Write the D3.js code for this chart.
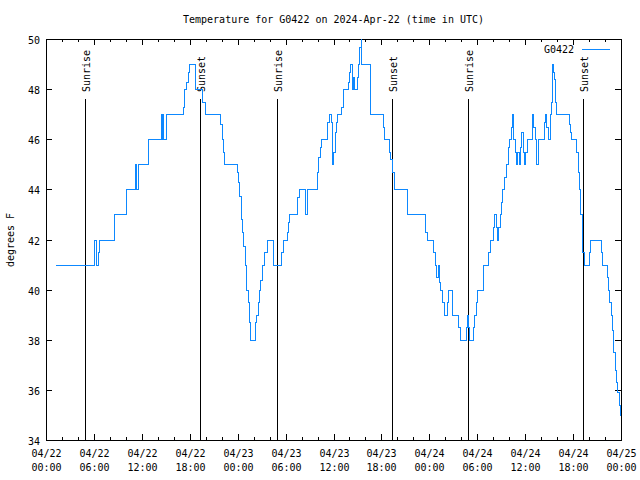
<!DOCTYPE html>
<html><head><meta charset="utf-8">
<script src="https://cdn.jsdelivr.net/npm/d3@7"></script>
<style>
body{margin:0;background:#fff}
text{font-family:"DejaVu Sans Mono",monospace;font-size:10px;fill:#000}
</style>
</head><body>
<svg id="c" width="640" height="480"></svg>
<script>
const titleText = "Temperature for G0422 on 2024-Apr-22 (time in UTC)";
const seriesName = "G0422";
const yLabel = "degrees F";
const startTime = "2024-04-22T00:00:00Z";
const endTime = "2024-04-25T00:00:00Z";
// hours since start (UTC) and temperature (F)
const hours = [1.25,6.09,6.34,6.6,6.76,8.56,10.10,11.19,11.39,11.64,12.81,14.40,14.55,14.65,14.75,15.1,17.2,17.4,17.6,17.8,18.0,18.78,19.62,19.95,21.9,22.1,22.25,22.4,23.96,24.12,24.29,24.46,24.63,24.79,24.96,25.13,25.38,25.54,25.63,26.21,26.38,26.55,26.71,26.88,27.13,27.38,27.71,28.47,29.51,29.68,30.18,30.34,30.51,31.47,31.68,32.52,32.72,33.98,34.14,34.31,34.52,35.23,35.44,35.77,35.9,36.02,36.19,36.35,36.48,37.02,37.23,37.86,38.02,38.19,38.36,38.5,38.6,38.95,39.1,39.3,39.45,39.55,40.6,42.2,42.35,43.0,43.15,43.41,43.66,45.25,47.54,47.71,48.5,48.75,48.92,49.09,49.25,49.42,49.67,49.92,50.25,50.38,50.84,51.63,51.84,52.67,52.8,52.92,53.09,53.51,53.68,53.93,54.09,54.84,55.43,55.6,56.01,56.18,56.35,56.51,56.68,56.85,57.02,57.18,57.43,57.6,57.89,58.06,58.23,58.39,58.56,58.73,58.9,59.06,59.23,59.4,59.56,59.73,59.9,60.06,60.23,60.9,61.06,61.32,61.48,61.65,62.48,62.57,62.73,62.9,63.23,63.32,63.48,63.57,63.65,63.82,63.94,65.49,65.66,65.82,66.49,66.66,66.83,66.99,67.12,67.24,67.41,68.03,68.16,69.5,69.66,70.25,70.41,70.58,70.75,70.91,71.08,71.25,71.42,71.58,71.75,71.92,72.0];
const temps = [41,42,41,41.5,42,43,44,45,44,45,46,47,46,47,46,47,47.3,48,48.3,48.7,49,48,47.5,47,46.6,46,45.5,45,44.7,44.3,43.75,42.8,42.3,41.75,41,40,39.5,38.7,38,38.7,39,39.5,40,40.4,41,41.5,42,41,41.5,42,42.3,42.7,43,43.7,44,43,44,44.7,45.3,45.7,46,46.7,47,46.7,45,45.5,46.3,46.7,47,47.3,48,48.3,48.7,49,48,48.5,48,48.5,49,49.7,50,49,47,46.5,46,45.5,45.2,44.7,44,43,42.3,42,41.5,41,40.5,41,40.3,40,39.5,39,39.5,40,39,38.5,38,38.5,39,38.5,38,38.5,39,39.5,40,41,41.5,42,42.5,43,42.5,42,42.5,43,43.5,44,44.5,45,45.7,46,46.5,47,46,45.5,45,45.5,45,45.7,46.3,45.5,45,45.5,46,47,46.5,46,45,46,46.7,47,46.5,46,47,47.5,49,48.7,48.4,47.5,47,46.6,46.3,46,45.5,44.7,44,43,42,41.5,41,41.5,42,41.5,41,40.5,40,39.5,39,38.4,37.5,36.8,36.3,35.9,35.4,35,35];
const eventLabels = ["Sunrise","Sunset","Sunrise","Sunset","Sunrise","Sunset"];
const eventHours = [4.93,19.33,28.97,43.37,52.9,67.3];
const yTicks = [34,36,38,40,42,44,46,48,50];
const majorTickHours = [0,6,12,18,24,30,36,42,48,54,60,66,72];
const minorTickHours = [2,4,8,10,14,16,20,22,26,28,32,34,38,40,44,46,50,52,56,58,62,64,68,70];

const lineColor = "#0d88ff";
const svg = d3.select("#c");
const t0 = new Date(startTime);
const hToDate = h => new Date(t0.getTime() + h * 3600000);

const L = 46, R = 621, T = 39, B = 440;
const x = d3.scaleUtc().domain([new Date(startTime), new Date(endTime)]).range([L, R]);
const y = d3.scaleLinear().domain([34, 50]).range([B, T]);
const px = v => Math.round(v) + 0.5;

const g = svg.append("g").attr("shape-rendering", "crispEdges");

// ticks (inward, both sides)
const fmtD = d3.utcFormat("%m/%d"), fmtT = d3.utcFormat("%H:%M");
majorTickHours.forEach(h => {
  const xx = px(x(hToDate(h)));
  g.append("line").attr("x1", xx).attr("x2", xx).attr("y1", B).attr("y2", B - 6).attr("stroke", "#000");
  g.append("line").attr("x1", xx).attr("x2", xx).attr("y1", T).attr("y2", T + 6).attr("stroke", "#000");
  const tx = svg.append("text").attr("x", xx).attr("text-anchor", "middle");
  tx.append("tspan").attr("x", xx).attr("y", 457).text(fmtD(hToDate(h)));
  tx.append("tspan").attr("x", xx).attr("y", 471).text(fmtT(hToDate(h)));
});
minorTickHours.forEach(h => {
  const xx = px(x(hToDate(h)));
  g.append("line").attr("x1", xx).attr("x2", xx).attr("y1", B).attr("y2", B - 3).attr("stroke", "#000");
  g.append("line").attr("x1", xx).attr("x2", xx).attr("y1", T).attr("y2", T + 3).attr("stroke", "#000");
});
yTicks.forEach(v => {
  const yy = px(y(v));
  g.append("line").attr("x1", L).attr("x2", L + 6).attr("y1", yy).attr("y2", yy).attr("stroke", "#000");
  g.append("line").attr("x1", R).attr("x2", R - 6).attr("y1", yy).attr("y2", yy).attr("stroke", "#000");
  svg.append("text").attr("x", 40).attr("y", yy + 4).attr("text-anchor", "end").text(v);
});

// sunrise / sunset
eventHours.forEach((h, i) => {
  const xx = px(x(hToDate(h)));
  g.append("line").attr("x1", xx).attr("x2", xx).attr("y1", B).attr("y2", 99).attr("stroke", "#000");
  svg.append("text").attr("transform", `translate(${xx + 4},92) rotate(-90)`)
    .attr("text-anchor", "start").text(eventLabels[i]);
});

// data line
const data = hours.map((h, i) => ({t: hToDate(h), v: temps[i]}));
const line = d3.line().x(d => x(d.t)).y(d => px(y(d.v))).curve(d3.curveStepAfter);
svg.append("path").datum(data).attr("d", line).attr("fill", "none")
  .attr("stroke", lineColor).attr("stroke-width", 1).attr("shape-rendering", "crispEdges");

// frame
g.append("rect").attr("x", L + 0.5).attr("y", T + 0.5).attr("width", R - L).attr("height", B - T)
  .attr("fill", "none").attr("stroke", "#000");

// legend
svg.append("text").attr("x", 574).attr("y", 53).attr("text-anchor", "end").text(seriesName);
g.append("line").attr("x1", 582).attr("x2", 610).attr("y1", 49.5).attr("y2", 49.5).attr("stroke", lineColor);

// title & y label
svg.append("text").attr("x", 333.5).attr("y", 23).attr("text-anchor", "middle").text(titleText);
svg.append("text").attr("transform", "translate(14,240) rotate(-90)").attr("text-anchor", "middle").text(yLabel);
</script>
</body></html>
